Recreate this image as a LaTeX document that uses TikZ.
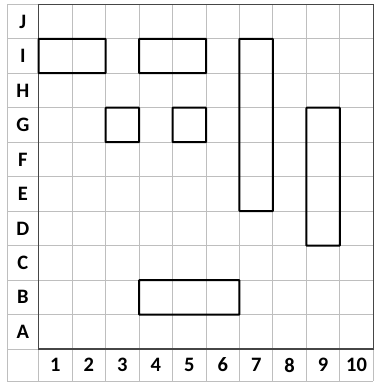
\documentclass[tikz,border=0pt]{standalone}
\usepackage{fontspec}
\setmainfont{Carlito}
\definecolor{gridgray}{RGB}{190,190,190}
\definecolor{framegray}{RGB}{70,70,70}
\begin{document}
\begin{tikzpicture}[x=33.46pt,y=-34.47pt,
  gridline/.style={draw=gridgray,line width=0.9pt},
  frameline/.style={draw=framegray,line width=1.2pt},
  blockbox/.style={draw=black,line width=2pt,rounded corners=0.6pt},
  lbl/.style={font=\fontsize{20.5}{20.5}\selectfont\bfseries,text=black,inner sep=0pt}]
\useasboundingbox (-1.1566,-0.1247) rectangle (10.0807,10.957);
% grid lines
\foreach \i in {0,...,10}{
  \draw[gridline] (-0.947,\i) -- (10,\i);
  \draw[gridline] (\i,0) -- (\i,10.93);
}
\draw[gridline] (-0.947,10.93) -- (10,10.93);
\draw[gridline] (-0.947,0) -- (-0.947,10.93);
% frame
\draw[frameline] (0,0) rectangle (10,10);
% blocks
\draw[blockbox] (0,1) rectangle (2,2);
\draw[blockbox] (3,1) rectangle (5,2);
\draw[blockbox] (2,3) rectangle (3,4);
\draw[blockbox] (4,3) rectangle (5,4);
\draw[blockbox] (6,1) rectangle (7,6);
\draw[blockbox] (8,3) rectangle (9,7);
\draw[blockbox] (3,8) rectangle (6,9);
% row labels
\foreach \t [count=\k from 0] in {J,I,H,G,F,E,D,C,B,A}{
  \node[lbl] (row\t) at (-0.4735,\k+0.5) {\t};
}
% column labels
\foreach \n in {1,...,10}{
  \node[lbl] (col\n) at (\n-0.5,10.465) {\n};
}
\end{tikzpicture}
\end{document}
